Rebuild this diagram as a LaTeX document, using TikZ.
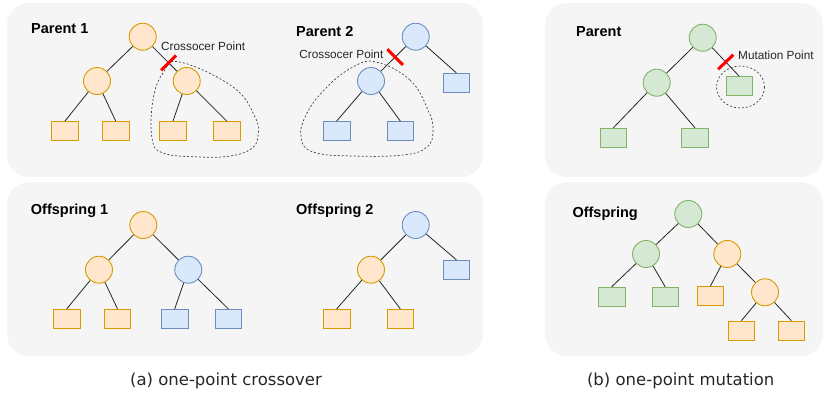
\documentclass[tikz,border=0pt]{standalone}
\usepackage{fontspec}
\setmainfont{Liberation Sans}
\newfontfamily\capfont{DejaVu Sans}
\usetikzlibrary{calc}

\definecolor{orfill}{HTML}{FFE6CC}
\definecolor{ordraw}{HTML}{D79B00}
\definecolor{blfill}{HTML}{DAE8FC}
\definecolor{bldraw}{HTML}{6C8EBF}
\definecolor{grfill}{HTML}{D5E8D4}
\definecolor{grdraw}{HTML}{82B366}
\definecolor{panelgray}{HTML}{F5F5F5}

\begin{document}
\begin{tikzpicture}[
  x=1pt, y=-1pt,
  panel/.style={fill=panelgray, rounded corners=22pt},
  circ/.style={circle, minimum size=27pt, inner sep=0pt, line width=0.9pt},
  leaf/.style={rectangle, minimum width=26.5pt, minimum height=19pt, inner sep=0pt, line width=0.9pt},
  ocirc/.style={circ, draw=ordraw, fill=orfill},
  bcirc/.style={circ, draw=bldraw, fill=blfill},
  gcirc/.style={circ, draw=grdraw, fill=grfill},
  oleaf/.style={leaf, draw=ordraw, fill=orfill},
  bleaf/.style={leaf, draw=bldraw, fill=blfill},
  gleaf/.style={leaf, draw=grdraw, fill=grfill},
  edge/.style={line width=0.8pt, black!85},
  cut/.style={red, line width=3pt},
  blob/.style={black!75, line width=0.7pt, dash pattern=on 2pt off 2pt},
  title/.style={font=\fontsize{14.5}{17}\selectfont\bfseries, inner sep=0pt, anchor=base west},
  note/.style={font=\fontsize{11.8}{14}\selectfont, text=black!85, inner sep=0pt},
  caption/.style={font=\capfont\fontsize{16.5}{20}\selectfont, text=black!85, inner sep=0pt, anchor=base},
]
\useasboundingbox (0,0) rectangle (824,397);

% === Panels ===
\fill[panel] (7,3) rectangle (483,177);
\fill[panel] (7,182) rectangle (483,356);
\fill[panel] (545,3) rectangle (823,177);
\fill[panel] (545,182) rectangle (823,356);

% === Parent 1 ===
\node[title] (p1title) at (31,33.3) {Parent 1};
\node[ocirc] (p1root) at (142.7,36.7) {};
\node[ocirc] (p1l) at (97,81) {};
\node[ocirc] (p1r) at (186.7,81) {};
\node[oleaf] (p1ll) at (65,131) {};
\node[oleaf] (p1lr) at (115.7,131) {};
\node[oleaf] (p1rl) at (173,131) {};
\node[oleaf] (p1rr) at (226.7,131) {};
\draw[edge] (p1root) -- (p1l);
\draw[edge] (p1root) -- (p1r);
\draw[edge] (p1l) -- (p1ll.north);
\draw[edge] (p1l) -- (p1lr.north);
\draw[edge] (p1r) -- (p1rl.north);
\draw[edge] (p1r) -- (p1rr.north);

% subtree that is cut out
\draw[blob] plot[smooth cycle, tension=0.7] coordinates {
  (180,62) (233,87) (255,117) (258,136) (251,149) (230,156)
  (200,157) (163,153) (152,138) (153,100) (163,73)};
\coordinate (cut1) at ($(p1root)!0.59!(p1r)$);
\draw[cut] ($(cut1)!10.5pt!90:(p1r)$) -- ($(cut1)!10.5pt!-90:(p1r)$);
\node[note, anchor=base west] (cross1) at (161,50) {Crossocer Point};

% === Parent 2 ===
\node[title] (p2title) at (296,36) {Parent 2};
\node[bcirc] (p2root) at (415.7,36.7) {};
\node[bcirc] (p2l) at (371,81) {};
\node[bleaf] (p2r) at (456.3,82.8) {};
\node[bleaf] (p2ll) at (336.7,131) {};
\node[bleaf] (p2lr) at (400.3,131) {};
\draw[edge] (p2root) -- (p2l);
\draw[edge] (p2root) -- (p2r.north);
\draw[edge] (p2l) -- (p2ll.north);
\draw[edge] (p2l) -- (p2lr.north);

\draw[blob] plot[smooth cycle, tension=0.7] coordinates {
  (376,62) (410,80) (428,110) (433,130) (427,147) (403,155)
  (353,156) (313,152) (301,137) (307,113) (327,87) (353,67)};
\coordinate (cut2) at ($(p2root)!0.46!(p2l)$);
\draw[cut] ($(cut2)!11pt!90:(p2l)$) -- ($(cut2)!11pt!-90:(p2l)$);
\node[note, anchor=base east] (cross2) at (383.5,58.3) {Crossocer Point};

% === Offspring 1 ===
\node[title] (o1title) at (30.7,214) {Offspring 1};
\node[ocirc] (o1root) at (143.3,225) {};
\node[ocirc] (o1l) at (99,269.7) {};
\node[bcirc] (o1r) at (188.3,269.7) {};
\node[oleaf] (o1ll) at (66.7,318.8) {};
\node[oleaf] (o1lr) at (117.5,318.8) {};
\node[bleaf] (o1rl) at (174.7,318.8) {};
\node[bleaf] (o1rr) at (228.3,318.8) {};
\draw[edge] (o1root) -- (o1l);
\draw[edge] (o1root) -- (o1r);
\draw[edge] (o1l) -- (o1ll.north);
\draw[edge] (o1l) -- (o1lr.north);
\draw[edge] (o1r) -- (o1rl.north);
\draw[edge] (o1r) -- (o1rr.north);

% === Offspring 2 ===
\node[title] (o2title) at (296,214) {Offspring 2};
\node[bcirc] (o2root) at (415.7,225) {};
\node[ocirc] (o2l) at (371,269.7) {};
\node[bleaf] (o2r) at (456.3,269.7) {};
\node[oleaf] (o2ll) at (336.7,318.8) {};
\node[oleaf] (o2lr) at (400.3,318.8) {};
\draw[edge] (o2root) -- (o2l);
\draw[edge] (o2root) -- (o2r.north);
\draw[edge] (o2l) -- (o2ll.north);
\draw[edge] (o2l) -- (o2lr.north);

% === Mutation: parent ===
\node[title] (mptitle) at (576,36) {Parent};
\node[gcirc] (mproot) at (702.7,37.7) {};
\node[gcirc] (mpl) at (656.7,82.7) {};
\node[gleaf] (mpr) at (739.3,86.2) {};
\node[gleaf] (mpll) at (613.3,137.8) {};
\node[gleaf] (mplr) at (695,137.8) {};
\draw[edge] (mproot) -- (mpl);
\draw[edge] (mproot) -- (mpr.north);
\draw[edge] (mpl) -- (mpll.north);
\draw[edge] (mpl) -- (mplr.north);

\draw[blob] (740.5,87) ellipse [x radius=24, y radius=21];
\coordinate (cut3) at ($(mproot)!0.63!(mpr.north)$);
\draw[cut] ($(cut3)!10.5pt!90:(mpr.north)$) -- ($(cut3)!10.5pt!-90:(mpr.north)$);
\node[note, anchor=base west] (mutpt) at (738,59) {Mutation Point};

% === Mutation: offspring ===
\node[title] (motitle) at (572.3,217.3) {Offspring};
\node[gcirc] (moroot) at (688.3,214) {};
\node[gcirc] (mol) at (646,254) {};
\node[ocirc] (mor) at (727.3,254) {};
\node[ocirc] (morr) at (765,292.3) {};
\node[gleaf] (moll) at (611.7,296.7) {};
\node[gleaf] (molr) at (665.2,296.7) {};
\node[oleaf] (morl) at (710.3,296.2) {};
\node[oleaf] (morrl) at (741.5,330.5) {};
\node[oleaf] (morrr) at (791.3,330.5) {};
\draw[edge] (moroot) -- (mol);
\draw[edge] (moroot) -- (mor);
\draw[edge] (mol) -- (moll.north);
\draw[edge] (mol) -- (molr.north);
\draw[edge] (mor) -- (morl.north);
\draw[edge] (mor) -- (morr);
\draw[edge] (morr) -- (morrl.north);
\draw[edge] (morr) -- (morrr.north);

% === Captions ===
\node[caption] (capa) at (226,385.5) {(a) one-point crossover};
\node[caption] (capb) at (680.7,385.5) {(b) one-point mutation};

\end{tikzpicture}
\end{document}
